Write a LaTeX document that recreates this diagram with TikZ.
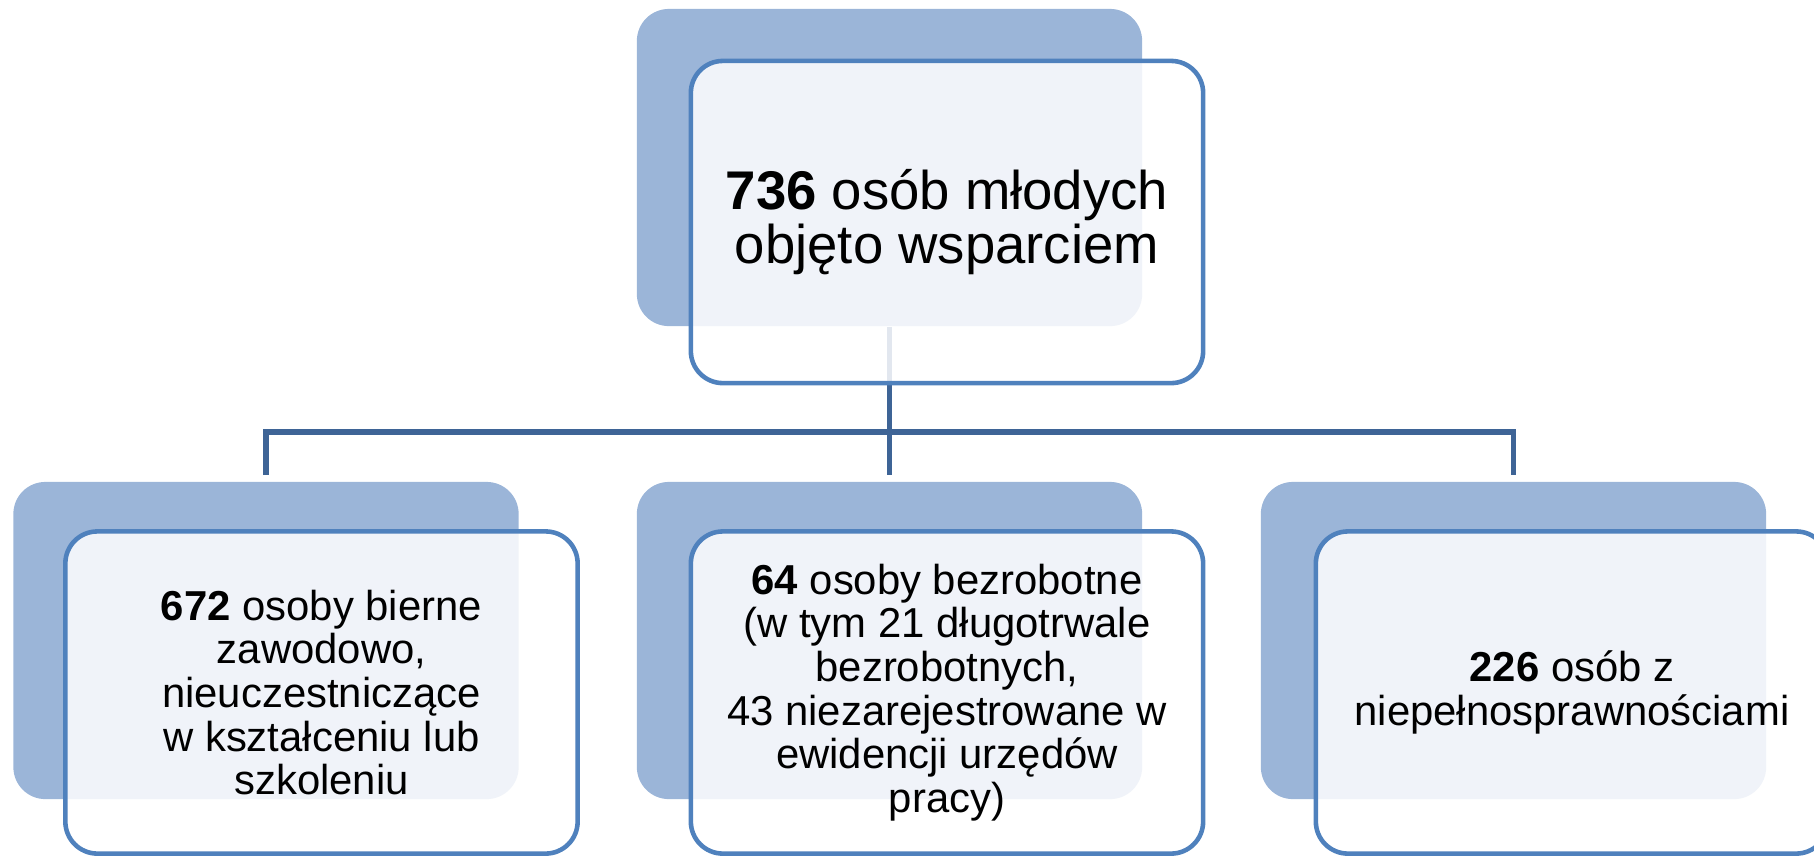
\documentclass[tikz,border=0pt]{standalone}
\usepackage{fontspec}
\setmainfont{Liberation Sans}
\usepackage{tikz}
\usetikzlibrary{positioning,calc}
\definecolor{backblue}{RGB}{155,181,216}
\definecolor{edgeblue}{RGB}{79,129,189}
\definecolor{linkblue}{RGB}{62,100,150}
\newcommand{\bigtxt}{\fontsize{15.5}{14}\selectfont}
\newcommand{\smalltxt}{\fontsize{11.9}{12.4}\selectfont}

\begin{document}
\begin{tikzpicture}[x=0.01cm,y=-0.01cm,
  backbox/.style={fill=backblue,rounded corners=0.32cm,minimum width=5.05cm,minimum height=3.17cm,inner sep=0pt},
  frontbox/.style={draw=edgeblue,line width=1.3pt,fill=white,fill opacity=0.85,text opacity=1,rounded corners=0.32cm,minimum width=5.12cm,minimum height=3.22cm,inner sep=0pt,align=center},
  conn/.style={draw=linkblue,line width=1.5pt}]
\useasboundingbox (0,0) rectangle (1814,856);
\node[backbox] (topback) at (889.5,167.5) {};
\node[backbox] (leftback) at (266,640.5) {};
\node[backbox] (midback) at (889.5,640.5) {};
\node[backbox] (rightback) at (1513.5,640.5) {};
\coordinate (bus) at (889.5,432);
\draw[conn] (topback.south) -- ([yshift=0.06cm]midback.north);
\draw[conn] ([yshift=0.06cm]leftback.north) |- (bus) -| ([yshift=0.06cm]rightback.north);
\node[frontbox,font=\bigtxt] (top) at (947,222) {\textbf{736} osób młodych\\objęto wsparciem};
\node[frontbox,font=\smalltxt] (left) at (321.5,692.5) {\textbf{672} osoby bierne\\zawodowo,\\nieuczestniczące\\w kształceniu lub\\szkoleniu};
\node[frontbox,font=\smalltxt] (mid) at (947,692.5) {\textbf{64} osoby bezrobotne\\(w tym 21 długotrwale\\bezrobotnych,\\43 niezarejestrowane w\\ewidencji urzędów\\pracy)};
\node[frontbox,font=\smalltxt] (right) at (1572,692.5) {\textbf{226} osób z\\niepełnosprawnościami};
\end{tikzpicture}
\end{document}
